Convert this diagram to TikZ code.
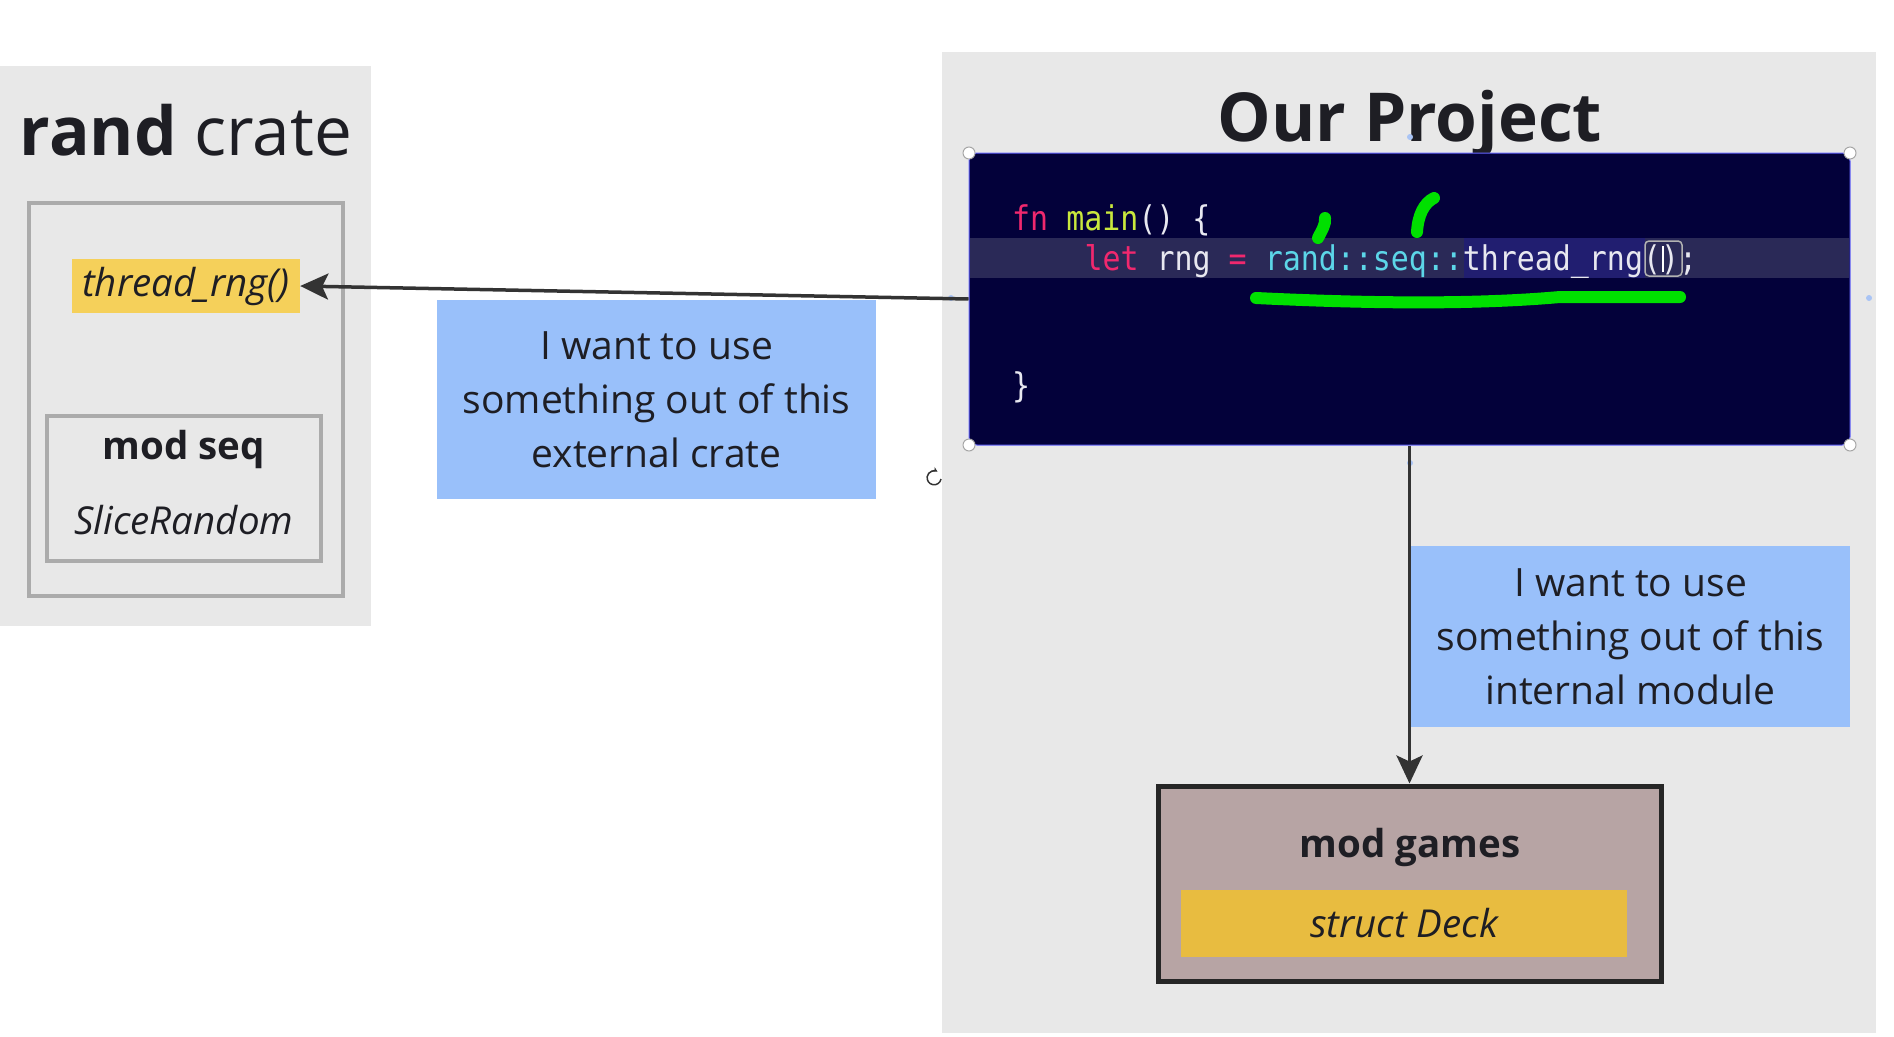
\documentclass[tikz,border=0pt]{standalone}
\usepackage{fontspec}
\setmainfont{Open Sans}
\newfontfamily\codefont[FakeStretch=0.88]{DejaVu Sans Mono}
\usetikzlibrary{arrows.meta}
\definecolor{panelgrey}{HTML}{E8E8E8}
\definecolor{framegrey}{HTML}{ABABAB}
\definecolor{fnyellow}{HTML}{F5D05A}
\definecolor{noteblue}{HTML}{99C0FA}
\definecolor{codebg}{HTML}{03013A}
\definecolor{linehl}{HTML}{2A2957}
\definecolor{selhl}{HTML}{211E70}
\definecolor{kwpink}{HTML}{F0286E}
\definecolor{fnlime}{HTML}{C9E83D}
\definecolor{pathcyan}{HTML}{5CD6E8}
\definecolor{codewhite}{HTML}{E8E8F0}
\definecolor{pengreen}{HTML}{00E000}
\definecolor{modrose}{HTML}{B7A4A4}
\definecolor{deckgold}{HTML}{E8BC40}
\definecolor{inkgrey}{HTML}{333333}
\definecolor{textink}{HTML}{1E1E24}
\definecolor{handleblue}{HTML}{A9C4F5}
\begin{document}
\begin{tikzpicture}[x=1pt,y=-1pt,
  every node/.style={inner sep=0pt,text=textink},
  panel/.style={fill=panelgrey,draw=none},
  frame/.style={draw=framegrey,line width=4pt},
  title/.style={font=\fontsize{67.5}{68}\selectfont,anchor=base},
  label/.style={font=\fontsize{38.5}{44}\selectfont},
  note/.style={fill=noteblue,align=center,font=\fontsize{39}{54}\selectfont},
  codeline/.style={anchor=base west,font=\codefont\fontsize{34}{40}\selectfont},
  pen/.style={draw=pengreen,line width=12pt,line cap=round},
  handle/.style={draw=gray!70,fill=white,line width=1pt},
  conn/.style={draw=inkgrey,line width=3.5pt,-{Stealth[length=28pt,width=26pt,inset=6pt]}}]
\fill[white] (0,0) rectangle (1894,1036);
\useasboundingbox (0,0) rectangle (1894,1036);

% rand crate
\node[panel,minimum width=371pt,minimum height=560pt] (randpanel) at (185.5,346) {};
\node[title] (randtitle) at (186,155) {\textbf{rand} crate};
\node[frame,minimum width=314pt,minimum height=393pt] (randbox) at (186,399.5) {};
\node[label,fill=fnyellow,minimum width=228pt,minimum height=54pt] (rng) at (186,286) {\itshape thread\_rng()};
\node[frame,minimum width=274pt,minimum height=145pt] (seqbox) at (184,488.5) {};
\node[label] (seqname) at (184,449) {\bfseries mod seq};
\node[label] (slice) at (184,520) {\itshape SliceRandom};

% our project
\node[panel,minimum width=934pt,minimum height=981pt] (projpanel) at (1409,542.5) {};
\node[title] (projtitle) at (1410,141) {\textbf{Our Project}};

% code window
\node[fill=codebg,draw=blue!60,line width=1pt,rounded corners=8pt,
  minimum width=881pt,minimum height=292pt] (code) at (1409.5,299) {};
\fill[linehl] (970,238) rectangle (1849,278);
\fill[selhl] (1464,238) rectangle (1645,278);
\draw[gray!60,line width=1.5pt,rounded corners=4pt] (1645,241) rectangle (1682,276);
\node[codeline] (code1) at (1012,230) {\textcolor{kwpink}{fn} \textcolor{fnlime}{main}\textcolor{codewhite}{() \{}};
\node[codeline] (code2) at (1084.4,270.5) {\textcolor{kwpink}{let} \textcolor{codewhite}{rng} \textcolor{kwpink}{=} \textcolor{pathcyan}{rand::seq::}\textcolor{codewhite}{thread\_rng();}};
\node[codeline] (code3) at (1012,397) {\textcolor{codewhite}{\}}};
\draw[white,line width=1.5pt] (1663,246) -- (1663,272);
\foreach \cx/\cy in {969/153,1850/153,969/445,1850/445}
  \draw[handle] (\cx,\cy) circle (6);
\foreach \cx/\cy in {951/298,1869/298,1410/137,1410/463}
  \fill[handleblue] (\cx,\cy) circle (3);

% pen marks
\draw[pen] (1256,298) .. controls (1360,303) and (1470,305) .. (1560,297) -- (1680,297);
\draw[pen] (1318,238) .. controls (1322,230) and (1326,224) .. (1325,218);
\draw[pen] (1417,232) .. controls (1418,215) and (1424,203) .. (1434,198);

% notes
\node[note,minimum width=439pt,minimum height=199pt] (extnote) at (656.5,399.5)
  {I want to use\\something out of this\\external crate};
\node[note,minimum width=439pt,minimum height=181pt] (intnote) at (1630.5,636.5)
  {I want to use\\something out of this\\internal module};
\draw[inkgrey,line width=1.5pt,-{Stealth[length=5pt,width=5pt]}] (941,479) arc[start angle=10,end angle=300,radius=7];

% mod games
\node[fill=modrose,draw=black!85,line width=5pt,minimum width=503pt,minimum height=195pt] (games) at (1409.5,883.5) {};
\node[label] (gamesname) at (1410,847) {\bfseries mod games};
\node[label,fill=deckgold,minimum width=446pt,minimum height=67pt] (deck) at (1404,923.5) {\itshape struct Deck};

% connectors
\draw[conn] (code.west) -- (rng.east);
\draw[conn] (code.south) -- (games.north);
\end{tikzpicture}
\end{document}
